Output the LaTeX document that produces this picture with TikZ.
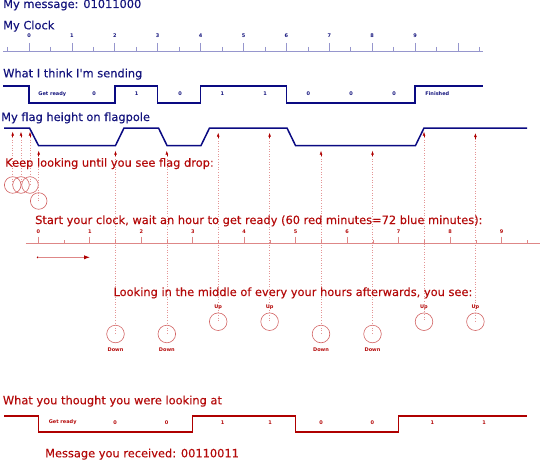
\documentclass[tikz,border=0pt]{standalone}
\usepackage{fontspec}
\setmainfont{DejaVu Sans}[Ligatures=TeXOff]
\newfontfamily\tfont{DejaVu Sans}[Ligatures=TeXOff,FakeBold=0.3]
\usetikzlibrary{arrows.meta}
\definecolor{navy}{RGB}{20,20,125}
\definecolor{bluesig}{RGB}{10,10,130}
\definecolor{blueaxis}{RGB}{150,150,205}
\definecolor{redtxt}{RGB}{180,10,10}
\definecolor{redsig}{RGB}{175,0,0}
\definecolor{redaxis}{RGB}{222,135,135}
\definecolor{redcirc}{RGB}{210,100,100}
\definecolor{reddot}{RGB}{228,150,150}
\tikzset{
 title/.style={anchor=base west, inner sep=0, font=\tfont\fontsize{11.4}{13}\selectfont},
 btitle/.style={title, text=navy},
 rtitle/.style={title, text=redtxt},
 small/.style={inner sep=0, font=\fontsize{5}{6}\selectfont\bfseries},
 bsig/.style={draw=bluesig, line width=1.5pt, line join=miter},
 rsig/.style={draw=redsig, line width=1.5pt},
 baxis/.style={draw=blueaxis, line width=0.8pt},
 raxis/.style={draw=redaxis, line width=0.8pt},
 look/.style={circle, draw=redcirc, line width=0.6pt, inner sep=0},
 seeline/.style={draw=reddot, dotted, line width=0.6pt},
 uparrow/.style={-{Latex[length=4pt,width=2.8pt]}, draw=redsig, line width=0.5pt},
}
\begin{document}
\begin{tikzpicture}[x=1pt,y=-1pt]
\useasboundingbox (0,0) rectangle (540,460);
% ---------- sender part ----------
\node[btitle] (msg) at (3,8) {My message: 01011000};
\node[btitle] (clk) at (3,29.3) {My Clock};
\draw[baxis] (3,51) coordinate (ba0) -- (483,51) coordinate (ba1);
\foreach \i in {0,...,10} \draw[baxis] ({29+42.9*\i},43) -- ({29+42.9*\i},51);
\foreach \i in {-1,...,10} \draw[baxis, line width=0.6pt] ({29+42.9*(\i+0.5)},47) -- ({29+42.9*(\i+0.5)},51);
\foreach \i in {0,...,9} \node[small, text=navy] (bn\i) at ({29+42.9*\i},35.5) {\i};

\node[btitle] (send) at (3,77.3) {What I think I'm sending};
\draw[bsig] (3,86) -- (29,86) -- (29,103) -- (114.8,103) -- (114.8,86) -- (157.7,86) -- (157.7,103) -- (200.6,103) -- (200.6,86) -- (286.4,86) -- (286.4,103) -- (415.1,103) -- (415.1,86) -- (483,86);
\foreach \x/\t [count=\k] in {52.3/Get ready,94/0,136.7/1,180/0,222.3/1,265/1,308.3/0,351/0,394/0,437.3/Finished}
  \node[small, text=navy] (bs\k) at (\x,94) {\t};

\node[btitle] (flag) at (1,121) {My flag height on flagpole};
\draw[bsig] (4,128) -- (29.5,128) -- (38.5,145.5) -- (115.5,145.5) -- (124,128) -- (158.5,128) -- (167,145.5) -- (201,145.5) -- (209.5,128) -- (287,128) -- (295.5,145.5) -- (415.5,145.5) -- (424,128) -- (527,128);

% ---------- receiver looking ----------
\foreach \x/\ty/\cy [count=\k] in {12.7/131.7/185,21/131.7/185,30/131.7/185,38.7/150.7/201}{
  \node[look, minimum size=16.6pt] (w\k) at (\x,\cy) {};
  \coordinate (wt\k) at (\x,\ty);
  \coordinate (ws\k) at (\x,\ty+5.5);
  \draw[seeline] (ws\k) -- (w\k.center);
  \draw[uparrow] (ws\k) -- (wt\k);
}
\foreach \x/\ty/\cy/\lab/\ly [count=\k] in {115.5/150.7/334/Down/349.3,166.8/150.7/334/Down/349.3,218.2/132.7/321.7/Up/306.7,269.6/132.7/321.7/Up/306.7,321/150.7/334/Down/349.3,372.5/150.7/334/Down/349.3,424/131.7/321.7/Up/306.7,475.4/133/321.7/Up/306.7}{
  \node[look, minimum size=17.6pt] (o\k) at (\x,\cy) {};
  \node[small, text=redtxt] (ol\k) at (\x,\ly) {\lab};
  \coordinate (ot\k) at (\x,\ty);
  \coordinate (os\k) at (\x,\ty+5.5);
  \draw[seeline] (os\k) -- (o\k.center);
  \draw[uparrow] (os\k) -- (ot\k);
}

\node[rtitle] (keep) at (5,166.7) {Keep looking until you see flag drop:};
\node[rtitle] (start) at (35,224) {Start your clock, wait an hour to get ready (60 red minutes=72 blue minutes):};

% red clock
\draw[raxis] (25.7,243.7) coordinate (ra0) -- (540,243.7) coordinate (ra1);
\foreach \i in {0,...,9} \draw[raxis] ({38.3+51.48*\i},236.7) -- ({38.3+51.48*\i},243.7);
\foreach \i in {0,...,9} \draw[raxis, line width=0.6pt] ({38.3+51.48*(\i+0.5)},240) -- ({38.3+51.48*(\i+0.5)},243.7);
\foreach \i in {0,...,9} \node[small, text=redtxt] (rn\i) at ({38.3+51.48*\i},231.7) {\i};
\coordinate (wa) at (37.7,257.3);
\coordinate (wb) at (90,257.3);
\fill[redsig] (wa) circle (1pt);
\draw[draw=redaxis, line width=0.9pt, -{Latex[length=6pt,width=4.2pt,color=redsig]}] (wa) -- (wb);

\node[rtitle] (mid) at (113.3,296) {Looking in the middle of every your hours afterwards, you see:};

% ---------- what was received ----------
\node[rtitle] (thought) at (2.7,404.3) {What you thought you were looking at};
\draw[rsig] (4,416) -- (38.3,416) -- (38.3,432) -- (192.3,432) -- (192.3,416) -- (295.7,416) -- (295.7,432) -- (398.3,432) -- (398.3,416) -- (526.7,416);
\foreach \x/\t [count=\k] in {62.7/Get ready,115/0,166.7/0,222.7/1,270/1,321/0,372.3/0,432.3/1,484/1}
  \node[small, text=redtxt] (rs\k) at (\x,422.3) {\t};
\node[rtitle] (recv) at (45,457.3) {Message you received: 00110011};
\end{tikzpicture}
\end{document}
